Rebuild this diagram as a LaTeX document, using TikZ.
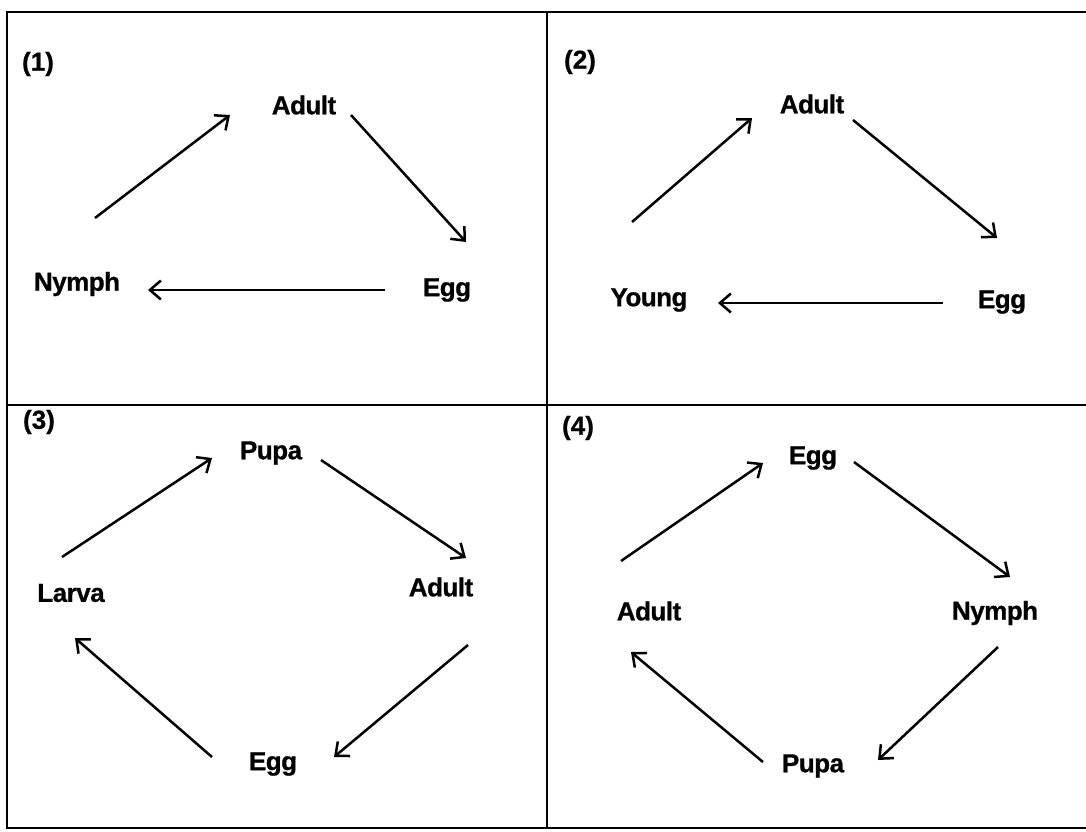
\documentclass[tikz,border=0pt]{standalone}
\usepackage{fontspec}
\setmainfont{Liberation Sans}
\newfontfamily\lblfont[LetterSpace=-2, BoldFeatures={FakeBold=0.8}]{Liberation Sans}
\newfontfamily\numfont[BoldFeatures={FakeBold=0.8}]{Liberation Sans}
\usetikzlibrary{arrows.meta}
\begin{document}
\begin{tikzpicture}[x=1pt,y=-1pt,
  lbl/.style={font=\lblfont\bfseries\fontsize{26}{30}\selectfont, inner sep=0pt},
  num/.style={font=\numfont\bfseries\fontsize{26}{30}\selectfont, inner sep=0pt},
  arr/.style={line width=2.5pt, -{Straight Barb[length=11pt,width=19pt,line width=2.5pt]}},
  frame/.style={line width=2.5pt}]
\useasboundingbox (0,0) rectangle (1086,831);
\fill[white] (0,0) rectangle (1086,831);
\begin{scope}
\clip (0,0) rectangle (1086,831);
\draw[frame] (7,12) rectangle (1095,828);
\draw[frame] (547,12) -- (547,828);
\draw[frame] (7,405) -- (1095,405);
\end{scope}
% panel 1
\node[num] (p1) at (38,64) {(1)};
\node[lbl] (ad1) at (304,105) {Adult};
\node[lbl] (eg1) at (447,290) {Egg};
\node[lbl] (ny1) at (77,284) {Nymph};
\draw[arr] ([shift={(18,-66)}]ny1.center) -- ([shift={(-74,10)}]ad1.center);
\draw[arr] ([shift={(47,10)}]ad1.center) -- ([shift={(19,-48)}]eg1.center);
\draw[arr] ([shift={(-62,0)}]eg1.center) -- ([shift={(71,6)}]ny1.center);
% panel 2
\node[num] (p2) at (580,62) {(2)};
\node[lbl] (ad2) at (812,104) {Adult};
\node[lbl] (eg2) at (1002,302) {Egg};
\node[lbl] (yo2) at (649,300) {Young};
\draw[arr] ([shift={(-17,-78)}]yo2.center) -- ([shift={(-60,14)}]ad2.center);
\draw[arr] ([shift={(41,16)}]ad2.center) -- ([shift={(-5,-64)}]eg2.center);
\draw[arr] ([shift={(-59,1)}]eg2.center) -- ([shift={(69,3)}]yo2.center);
% panel 3
\node[num] (p3) at (39,422) {(3)};
\node[lbl] (pu3) at (271,453) {Pupa};
\node[lbl] (ad3) at (441,587) {Adult};
\node[lbl] (la3) at (71,593) {Larva};
\node[lbl] (eg3) at (273,764) {Egg};
\draw[arr] ([shift={(-9,-36)}]la3.center) -- ([shift={(-59,5)}]pu3.center);
\draw[arr] ([shift={(50,7)}]pu3.center) -- ([shift={(25,-29)}]ad3.center);
\draw[arr] ([shift={(27,58)}]ad3.center) -- ([shift={(61,-7)}]eg3.center);
\draw[arr] ([shift={(-61,-7)}]eg3.center) -- ([shift={(4,45)}]la3.center);
% panel 4
\node[num] (p4) at (578,428) {(4)};
\node[lbl] (eg4) at (813,458) {Egg};
\node[lbl] (ny4) at (995,613) {Nymph};
\node[lbl] (ad4) at (649,611) {Adult};
\node[lbl] (pu4) at (813,766) {Pupa};
\draw[arr] ([shift={(-28,-50)}]ad4.center) -- ([shift={(-50,5)}]eg4.center);
\draw[arr] ([shift={(41,4)}]eg4.center) -- ([shift={(15,-36)}]ny4.center);
\draw[arr] ([shift={(3,34)}]ny4.center) -- ([shift={(65,-6)}]pu4.center);
\draw[arr] ([shift={(-50,-4)}]pu4.center) -- ([shift={(-18,41)}]ad4.center);
\end{tikzpicture}
\end{document}
